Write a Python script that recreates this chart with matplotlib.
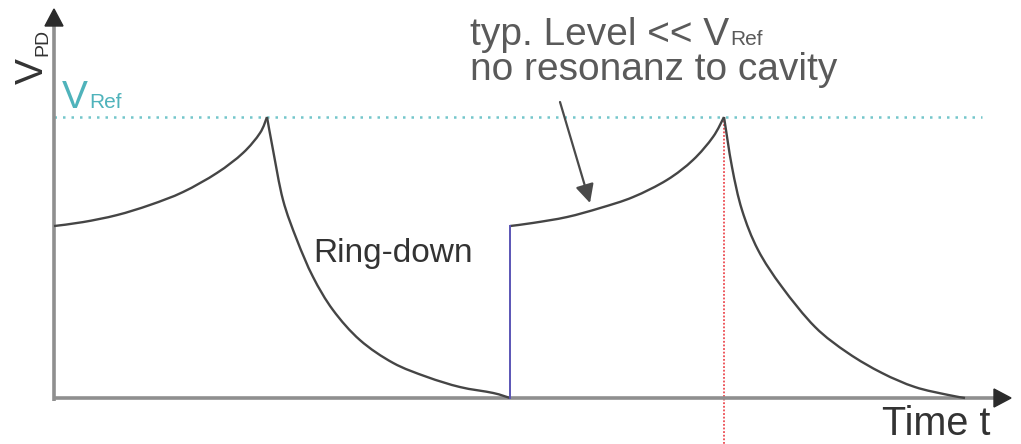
import numpy as np
import matplotlib
matplotlib.use('Agg')
import matplotlib.pyplot as plt
from matplotlib.patches import Polygon, PathPatch
from matplotlib.path import Path

plt.rcParams['font.family'] = ['Liberation Sans', 'DejaVu Sans']

# time (arb. units) and photodiode voltage (V / V_Ref)
t_rise1 = [0, 29, 63, 96, 129, 163, 189, 206, 213]
v_rise1 = [0.612, 0.626, 0.651, 0.687, 0.733, 0.801, 0.872, 0.943, 1.0]

t_down1 = [213, 219, 229, 243, 259, 279, 306, 339, 373, 406, 439, 456]
v_down1 = [1.0, 0.883, 0.705, 0.562, 0.431, 0.313, 0.206, 0.125, 0.075, 0.039, 0.018, 0.0]

t_jump = [456, 456]
v_jump = [0.0, 0.612]

t_rise2 = [456, 479, 513, 546, 579, 613, 639, 659, 670]
v_rise2 = [0.612, 0.623, 0.644, 0.676, 0.715, 0.776, 0.847, 0.929, 1.0]

t_down2 = [670, 678, 688, 704, 728, 761, 794, 828, 861, 894, 911]
v_down2 = [1.0, 0.822, 0.669, 0.527, 0.395, 0.253, 0.160, 0.089, 0.039, 0.011, 0.0]

v_ref = 1.0
t_ref_end = 928
t_trigger = 670


def px(x, y):
    # pixel position in the picture -> data coordinates
    return x - 54, (398 - y) / 281.0


def smooth(t, v):
    # draw the read points as one smooth curve (catmull-rom -> bezier)
    p = np.column_stack([t, v]).astype(float)
    p = np.vstack([p[0], p, p[-1]])
    verts = [p[1]]
    codes = [Path.MOVETO]
    for i in range(1, len(p) - 2):
        c1 = p[i] + (p[i + 1] - p[i - 1]) / 6.0
        c2 = p[i + 1] - (p[i + 2] - p[i]) / 6.0
        verts += [c1, c2, p[i + 1]]
        codes += [Path.CURVE4] * 3
    return Path(verts, codes)


def with_sub(x, y, main, sub, size, subsize, color):
    # big letter + small index on the same baseline
    txt = ax.text(*px(x, y), main, ha='left', va='baseline', fontsize=size, color=color)
    ax.annotate(sub, xy=(1.0, px(0, y)[1]), xycoords=(txt, 'data'),
                xytext=(1, 0), textcoords='offset points',
                ha='left', va='baseline', fontsize=subsize, color=color)
    return txt


dpi = 100
fig = plt.figure(figsize=(1021 / dpi, 444 / dpi), dpi=dpi)
ax = fig.add_axes([0, 0, 1, 1])
ax.set_xlim(-54, 1021 - 54)
ax.set_ylim(-46 / 281.0, 398 / 281.0)
ax.axis('off')

# reference level
ax.plot([0, t_ref_end], [v_ref, v_ref], color='#74c6cb', lw=1.8,
        linestyle=(0, (1, 2.4)), zorder=1)
# trigger marker
ax.plot([t_trigger, t_trigger], [v_ref, ax.get_ylim()[0]], color='#ec4a50', lw=1.3,
        linestyle=(0, (1, 1.0)), zorder=1)

# axes with arrows
ax.plot([0, 0], [px(0, 401)[1], px(0, 24)[1]], color='#8f8f8f', lw=2.6, zorder=2,
        solid_capstyle='butt')
ax.plot([0, px(996, 0)[0]], [0, 0], color='#8f8f8f', lw=2.6, zorder=2,
        solid_capstyle='butt')
ax.add_patch(Polygon([px(54, 9), px(45, 26), px(63, 26)], closed=True,
                     color='#2b2b2b', zorder=3))
ax.add_patch(Polygon([px(1011, 398), px(994, 389), px(994, 407)], closed=True,
                     color='#2b2b2b', zorder=3))

# signal
for t, v in [(t_rise1, v_rise1), (t_down1, v_down1), (t_rise2, v_rise2), (t_down2, v_down2)]:
    ax.add_patch(PathPatch(smooth(t, v), fill=False, edgecolor='#454545', lw=1.7,
                           joinstyle='round', zorder=4))
ax.plot(t_jump, v_jump, color='#5a55b5', lw=1.4, zorder=4)

# labels
ax.text(*px(51, 84), 'V', rotation=90, ha='right', va='bottom',
        fontsize=28, color='#333333')
ax.text(*px(51, 56), 'PD', rotation=90, ha='right', va='bottom',
        fontsize=14, color='#333333')
with_sub(62, 108, 'V', 'Ref', 28, 15, '#4fb3bb')
ax.text(*px(313, 262), 'Ring-down', ha='left', va='baseline',
        fontsize=24, color='#333333')
with_sub(470, 45, 'typ. Level << V', 'Ref', 28, 15, '#5a5a5a')
ax.text(*px(470, 80), 'no resonanz to cavity', ha='left', va='baseline',
        fontsize=28, color='#5a5a5a')
ax.text(*px(882, 435), 'Time t', ha='left', va='baseline',
        fontsize=28.5, color='#333333')

ax.annotate('', xy=px(590, 203), xytext=px(560, 102),
            arrowprops=dict(arrowstyle='-|>', color='#4a4a4a', lw=1.6,
                            mutation_scale=28, shrinkA=0, shrinkB=0))

plt.savefig('out.png', dpi=dpi)
